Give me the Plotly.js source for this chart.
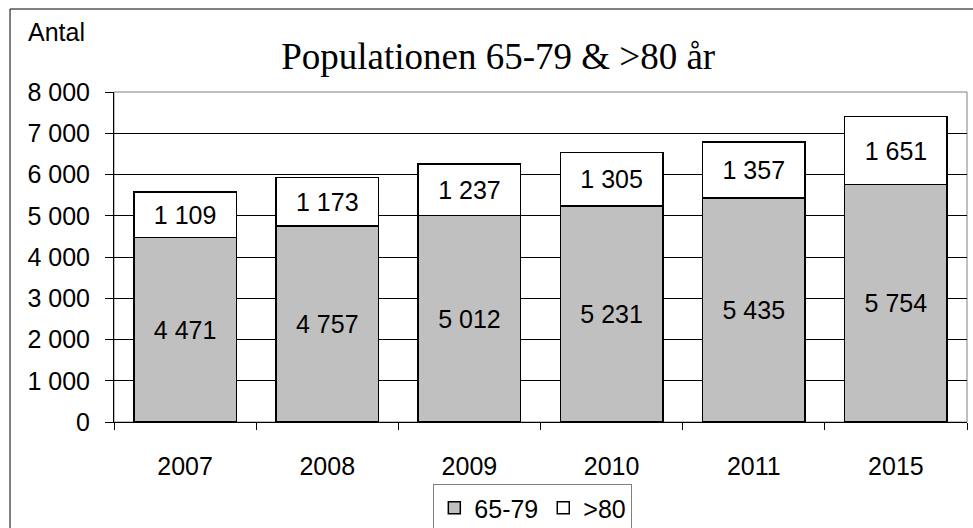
<!DOCTYPE html>
<html>
<head>
<meta charset="utf-8">
<script src="https://cdn.plot.ly/plotly-3.0.1.min.js"></script>
<style>html,body{margin:0;padding:0;background:#fff;}#chart{width:973px;height:528px;}</style>
</head>
<body>
<div id="chart"></div>
<script>
var years = ['2007', '2008', '2009', '2010', '2011', '2015'];
var age6579 = [4471, 4757, 5012, 5231, 5435, 5754];
var age80 = [1109, 1173, 1237, 1305, 1357, 1651];
var yTicks = [0, 1000, 2000, 3000, 4000, 5000, 6000, 7000, 8000];

var font = {family: 'Liberation Sans, Arial, sans-serif', size: 25, color: '#000'};

var traces = [
  {
    type: 'bar', name: '65-79', x: years, y: age6579,
    marker: {color: '#C0C0C0', line: {color: '#000', width: 1.5}},
    texttemplate: '%{y:,}', textposition: 'inside', insidetextanchor: 'middle',
    textfont: font, hoverinfo: 'skip'
  },
  {
    type: 'bar', name: '>80', x: years, y: age80,
    marker: {color: '#FFFFFF', line: {color: '#000', width: 1.5}},
    texttemplate: '%{y:,}', textposition: 'inside', insidetextanchor: 'middle',
    textfont: font, hoverinfo: 'skip'
  }
];

var layout = {
  width: 973, height: 528,
  margin: {l: 114, r: 6, t: 92, b: 106, autoexpand: false},
  paper_bgcolor: '#fff', plot_bgcolor: '#fff',
  separators: ', ',
  barmode: 'stack',
  bargap: 0.28,
  font: font,
  showlegend: true,
  title: {
    text: 'Populationen 65-79 &amp; &gt;80 år',
    font: {family: 'Liberation Serif, Times New Roman, serif', size: 37, color: '#000'},
    x: 0.512, xanchor: 'center', xref: 'container',
    y: 0.894, yanchor: 'middle', yref: 'container'
  },
  xaxis: {
    type: 'category',
    showline: true, linecolor: '#000', linewidth: 1,
    ticks: 'outside', ticklen: 7, tickcolor: '#000', tickson: 'boundaries',
    ticklabelstandoff: 22,
    tickfont: font, showgrid: false, zeroline: false, fixedrange: true
  },
  yaxis: {
    range: [0, 8000],
    tickvals: yTicks, tickformat: ',d',
    showline: true, linecolor: '#000', linewidth: 1,
    ticks: 'outside', ticklen: 8, tickcolor: '#000',
    ticklabelstandoff: 10,
    showgrid: true, gridcolor: '#000', gridwidth: 1,
    zeroline: false, tickfont: font, fixedrange: true
  },
  legend: {
    orientation: 'h',
    x: 0.491, xanchor: 'center', xref: 'paper',
    y: -0.188, yanchor: 'top', yref: 'paper',
    bordercolor: '#808080', borderwidth: 1, bgcolor: '#fff',
    font: font, traceorder: 'normal', itemwidth: 30
  },
  annotations: [
    {text: 'Antal', xref: 'paper', yref: 'paper', x: -0.067, y: 1.182,
     xanchor: 'center', yanchor: 'middle', showarrow: false, font: font}
  ],
  shapes: [
    {type: 'rect', xref: 'paper', yref: 'paper', x0: 0, x1: 1, y0: 0, y1: 1,
     line: {color: '#808080', width: 1}, fillcolor: 'rgba(0,0,0,0)', layer: 'below'},
    {type: 'rect', xref: 'paper', yref: 'paper', x0: -0.1219, x1: 1.2, y0: -0.5, y1: 1.2515,
     line: {color: '#000', width: 1}, fillcolor: 'rgba(0,0,0,0)'}
  ]
};

Plotly.newPlot('chart', traces, layout, {displayModeBar: false, staticPlot: true});
</script>
</body>
</html>
